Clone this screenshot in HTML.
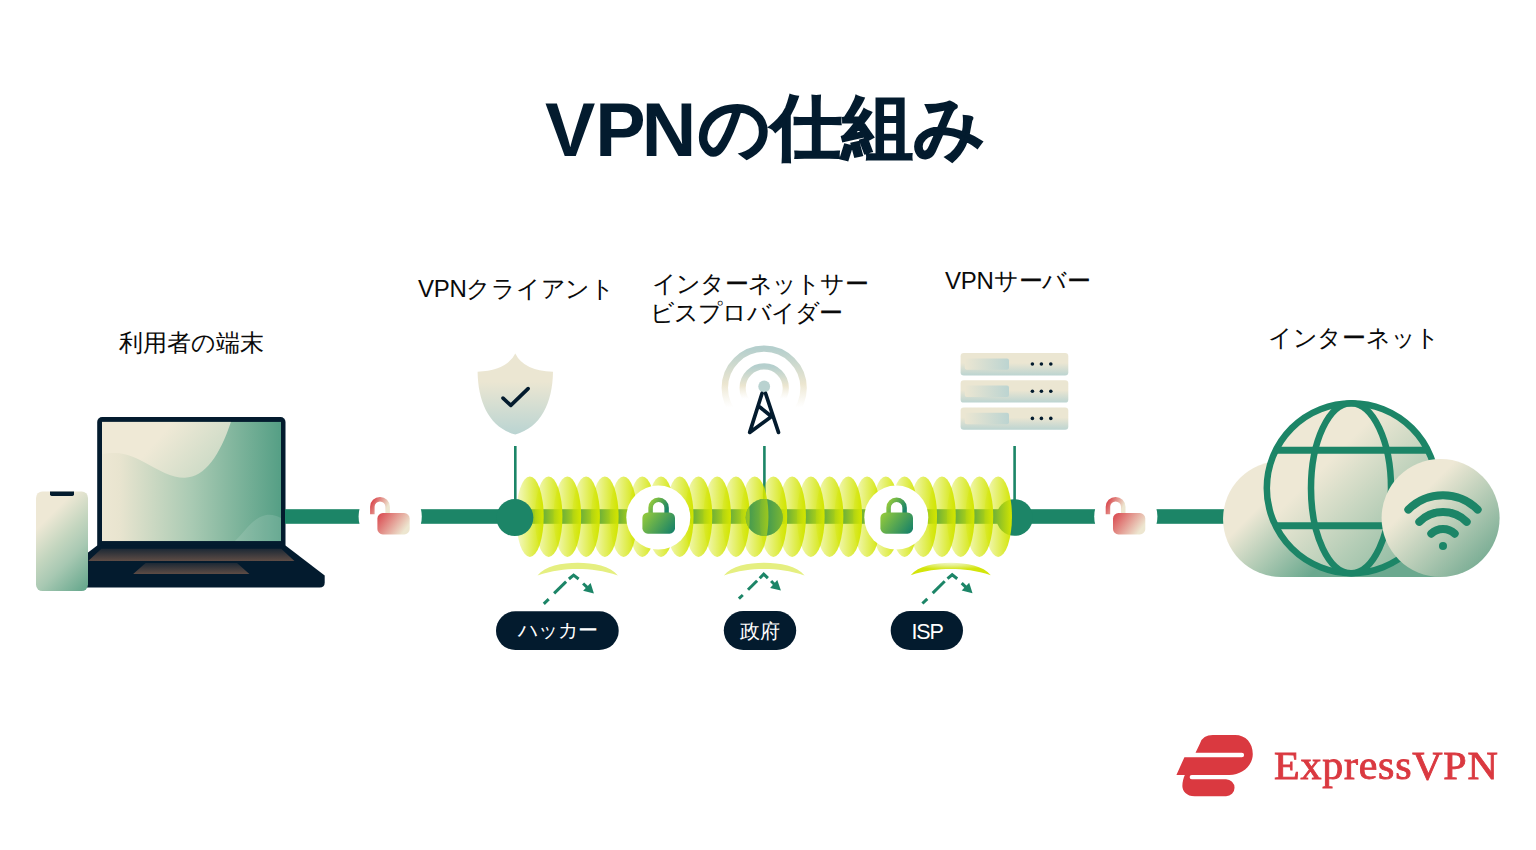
<!DOCTYPE html>
<html><head><meta charset="utf-8">
<style>
html,body{margin:0;padding:0;background:#fff;width:1536px;height:850px;overflow:hidden}
body{font-family:"Liberation Sans",sans-serif;position:relative}
.t{position:absolute;white-space:nowrap;color:#0a0a0a;line-height:1}
svg{position:absolute;left:0;top:0}
</style></head><body>
<svg width="1536" height="850" viewBox="0 0 1536 850">
<defs>
  <linearGradient id="scr" x1="0" y1="0" x2="1" y2="0">
    <stop offset="0" stop-color="#ede7d3"/>
    <stop offset="0.1" stop-color="#e8e4cf"/>
    <stop offset="0.5" stop-color="#a9cab3"/>
    <stop offset="1" stop-color="#559f85"/>
  </linearGradient>
  <linearGradient id="blob" gradientUnits="userSpaceOnUse" x1="170" y1="425" x2="235" y2="482">
    <stop offset="0" stop-color="#efe9d6"/>
    <stop offset="1" stop-color="#bdd4bf"/>
  </linearGradient>
  <linearGradient id="scrb" x1="0" y1="0" x2="1" y2="0.6">
    <stop offset="0" stop-color="#efe9d6"/>
    <stop offset="0.4" stop-color="#ece7d3"/>
    <stop offset="1" stop-color="#b3ceb9"/>
  </linearGradient>
  <linearGradient id="kb" x1="0" y1="0" x2="0" y2="1">
    <stop offset="0" stop-color="#1d2935"/>
    <stop offset="1" stop-color="#5e4c45"/>
  </linearGradient>
  <linearGradient id="phone" gradientUnits="userSpaceOnUse" x1="45" y1="505" x2="110" y2="570">
    <stop offset="0.12" stop-color="#eee8d5"/>
    <stop offset="0.4" stop-color="#c4d6bf"/>
    <stop offset="0.6" stop-color="#a9c9b3"/>
    <stop offset="1" stop-color="#5fa489"/>
  </linearGradient>
  <linearGradient id="unlock" x1="0" y1="0" x2="1" y2="0.5">
    <stop offset="0" stop-color="#d9434a"/>
    <stop offset="1" stop-color="#ede6d0"/>
  </linearGradient>
  <linearGradient id="lockg" x1="0" y1="0.25" x2="1" y2="0.75">
    <stop offset="0" stop-color="#8ec73e"/>
    <stop offset="1" stop-color="#1b8467"/>
  </linearGradient>
  <linearGradient id="ell" x1="0" y1="0" x2="1" y2="0">
    <stop offset="0" stop-color="#d2e500" stop-opacity="0.2"/>
    <stop offset="1" stop-color="#d2e500" stop-opacity="1"/>
  </linearGradient>
  <linearGradient id="shield" x1="0" y1="0" x2="0" y2="1">
    <stop offset="0.35" stop-color="#ebe6d2"/>
    <stop offset="1" stop-color="#bad4d2"/>
  </linearGradient>
  <linearGradient id="arcg" x1="0" y1="0" x2="0" y2="1">
    <stop offset="0" stop-color="#b5cfcd"/>
    <stop offset="0.45" stop-color="#ece6d0"/>
    <stop offset="0.75" stop-color="#f2eedf" stop-opacity="0"/>
  </linearGradient>
  <linearGradient id="srv" x1="0" y1="0" x2="0" y2="1">
    <stop offset="0.45" stop-color="#ebe6d2"/>
    <stop offset="1" stop-color="#bcd4d1"/>
  </linearGradient>
  <linearGradient id="slot" x1="0" y1="0" x2="1" y2="0">
    <stop offset="0" stop-color="#ebe6d2"/>
    <stop offset="1" stop-color="#bcd4d1"/>
  </linearGradient>
  <linearGradient id="globe" gradientUnits="userSpaceOnUse" x1="1335" y1="455" x2="1425" y2="545">
    <stop offset="0" stop-color="#eee8d5"/>
    <stop offset="1" stop-color="#8fbba2"/>
  </linearGradient>
  <linearGradient id="cloud" gradientUnits="userSpaceOnUse" x1="1258" y1="508" x2="1318" y2="568">
    <stop offset="0" stop-color="#eee8d5"/>
    <stop offset="1" stop-color="#6ba98f"/>
  </linearGradient>
  <linearGradient id="wifi" x1="0.15" y1="0.15" x2="1" y2="1">
    <stop offset="0.2" stop-color="#eee8d5"/>
    <stop offset="1" stop-color="#5e9f85"/>
  </linearGradient>
  <radialGradient id="isparc" cx="0.5" cy="0" r="0.55">
    <stop offset="0" stop-color="#f1f7c6"/>
    <stop offset="0.45" stop-color="#e4ef80"/>
    <stop offset="1" stop-color="#d3e50a"/>
  </radialGradient>
  <clipPath id="midclip"><circle cx="764.2" cy="517.5" r="18.5"/></clipPath>
  <linearGradient id="ell2" x1="0" y1="0" x2="1" y2="0">
    <stop offset="0" stop-color="#d2e500" stop-opacity="0.08"/>
    <stop offset="1" stop-color="#d2e500" stop-opacity="0.6"/>
  </linearGradient>
  <clipPath id="globeclip"><circle cx="1351.8" cy="488.2" r="86"/></clipPath>
  <clipPath id="scrclip"><rect x="102" y="421.7" width="179" height="119.5"/></clipPath>
  <mask id="barmask">
    <rect x="0" y="0" width="1536" height="850" fill="#fff"/>
    <circle cx="390.2" cy="516.5" r="31.6" fill="#000"/>
    <circle cx="1125.8" cy="516.5" r="31.6" fill="#000"/>
  </mask>
</defs>

<!-- ===== Laptop ===== -->
<rect x="97.2" y="417" width="188.3" height="140" rx="5" fill="#031b2e"/>
<g clip-path="url(#scrclip)">
  <rect x="102" y="421.7" width="179" height="119.5" fill="url(#scr)"/>
  <path d="M102 454 C112 452 125 452 140 460 C160 471 172 478 185 477.7 C205 477 220 455 231 421.7 L102 421.7 Z" fill="url(#blob)"/>
  <path d="M234.7 541.2 C245 532 252 518 266 515 C272 514 277 516 281 518 L281 541.2 Z" fill="#ffffff" opacity="0.12"/>
</g>
<path d="M97.2 545.6 L285.5 545.6 L324.7 575.5 L324.7 582.6 Q324.7 587.6 319.7 587.6 L62 587.6 Q58 587.6 58 582.6 L58 575.5 Z" fill="#031b2e"/>
<polygon points="101.4,548.8 281.2,548.8 294.4,561 88.2,561" fill="url(#kb)"/>
<polygon points="145.6,563 237,563 249.4,574 133.2,574" fill="url(#kb)"/>
<!-- phone -->
<rect x="36" y="491.5" width="52" height="99.5" rx="6.4" fill="url(#phone)"/>
<path d="M50 491.6 L74 491.6 L74 494.2 Q74 495.9 72.3 495.9 L51.7 495.9 Q50 495.9 50 494.2 Z" fill="#031b2e"/>

<!-- ===== main bar ===== -->
<g mask="url(#barmask)">
  <rect x="285" y="509.2" width="940" height="14.6" fill="#1c8567"/>
</g>
<!-- unlock icons -->
<g id="ul1">
  <path d="M372.35 514.2 L372.35 506.8 A7.65 7.65 0 0 1 387.65 506.8 L387.65 514" fill="none" stroke="url(#unlock)" stroke-width="4.5"/>
  <rect x="377.4" y="513.1" width="32.3" height="21.3" rx="5.5" fill="url(#unlock)"/>
</g>
<use href="#ul1" x="735.6"/>

<!-- vertical connectors -->
<rect x="514" y="446" width="2.6" height="60" fill="#1c8567"/>
<rect x="763.1" y="446" width="2.6" height="60" fill="#1c8567"/>
<rect x="1013.3" y="446" width="2.6" height="60" fill="#1c8567"/>
<!-- nodes behind ellipses -->
<circle cx="1014.6" cy="517.5" r="18.3" fill="#1c8567"/>
<!-- ellipses -->
<g id="ells"><ellipse cx="998.15" cy="516.7" rx="13.8" ry="40.2" fill="url(#ell)"/><ellipse cx="979.42" cy="516.7" rx="13.8" ry="40.2" fill="url(#ell)"/><ellipse cx="960.69" cy="516.7" rx="13.8" ry="40.2" fill="url(#ell)"/><ellipse cx="941.96" cy="516.7" rx="13.8" ry="40.2" fill="url(#ell)"/><ellipse cx="923.23" cy="516.7" rx="13.8" ry="40.2" fill="url(#ell)"/><ellipse cx="904.50" cy="516.7" rx="13.8" ry="40.2" fill="url(#ell)"/><ellipse cx="885.77" cy="516.7" rx="13.8" ry="40.2" fill="url(#ell)"/><ellipse cx="867.04" cy="516.7" rx="13.8" ry="40.2" fill="url(#ell)"/><ellipse cx="848.31" cy="516.7" rx="13.8" ry="40.2" fill="url(#ell)"/><ellipse cx="829.58" cy="516.7" rx="13.8" ry="40.2" fill="url(#ell)"/><ellipse cx="810.85" cy="516.7" rx="13.8" ry="40.2" fill="url(#ell)"/><ellipse cx="792.12" cy="516.7" rx="13.8" ry="40.2" fill="url(#ell)"/><ellipse cx="773.39" cy="516.7" rx="13.8" ry="40.2" fill="url(#ell)"/><ellipse cx="754.66" cy="516.7" rx="13.8" ry="40.2" fill="url(#ell)"/><ellipse cx="735.93" cy="516.7" rx="13.8" ry="40.2" fill="url(#ell)"/><ellipse cx="717.20" cy="516.7" rx="13.8" ry="40.2" fill="url(#ell)"/><ellipse cx="698.47" cy="516.7" rx="13.8" ry="40.2" fill="url(#ell)"/><ellipse cx="679.74" cy="516.7" rx="13.8" ry="40.2" fill="url(#ell)"/><ellipse cx="661.01" cy="516.7" rx="13.8" ry="40.2" fill="url(#ell)"/><ellipse cx="642.28" cy="516.7" rx="13.8" ry="40.2" fill="url(#ell)"/><ellipse cx="623.55" cy="516.7" rx="13.8" ry="40.2" fill="url(#ell)"/><ellipse cx="604.82" cy="516.7" rx="13.8" ry="40.2" fill="url(#ell)"/><ellipse cx="586.09" cy="516.7" rx="13.8" ry="40.2" fill="url(#ell)"/><ellipse cx="567.36" cy="516.7" rx="13.8" ry="40.2" fill="url(#ell)"/><ellipse cx="548.63" cy="516.7" rx="13.8" ry="40.2" fill="url(#ell)"/><ellipse cx="529.90" cy="516.7" rx="13.8" ry="40.2" fill="url(#ell)"/></g>
<circle cx="764.2" cy="517.5" r="18.5" fill="#1c8567"/>
<g clip-path="url(#midclip)"><ellipse cx="773.39" cy="516.7" rx="13.8" ry="40.2" fill="url(#ell2)"/><ellipse cx="754.66" cy="516.7" rx="13.8" ry="40.2" fill="url(#ell2)"/><ellipse cx="735.93" cy="516.7" rx="13.8" ry="40.2" fill="url(#ell2)"/></g>
<!-- client node on top -->
<circle cx="514.85" cy="517.6" r="18.5" fill="#1c8567"/>
<!-- white lock circles -->
<circle cx="658.3" cy="517.6" r="32" fill="#fff"/>
<circle cx="896.3" cy="517.6" r="32" fill="#fff"/>
<g id="lk1">
  <path d="M650.6 513 L650.6 507.7 A8 8 0 0 1 666.6 507.7 L666.6 513" fill="none" stroke="url(#lockg)" stroke-width="4.5"/>
  <rect x="642.4" y="512.5" width="32.6" height="21.2" rx="5.5" fill="url(#lockg)"/>
</g>
<use href="#lk1" x="238"/>

<!-- reflection arcs -->
<path d="M537.5 575.5 C544.8 566 562.0 562.8 577.70 562.8 C593.4 562.8 610.6 566 617.9 575.5 C603.6 570.5 590.6 569 577.70 569 C564.8 569 551.8 570.5 537.5 575.5 Z" fill="#e5ef80"/>
<path d="M723.9 575.5 C731.2 566 748.5 562.8 764.25 562.8 C780.0 562.8 797.3 566 804.6 575.5 C790.3 570.5 777.2 569 764.25 569 C751.3 569 738.2 570.5 723.9 575.5 Z" fill="#e5ef80"/>
<path d="M910.7 575.2 C918.0 566 935.1 562.8 950.75 562.8 C966.4 562.8 983.5 566 990.8 575.2 C976.5 570.5 963.6 569 950.75 569 C937.9 569 925.0 570.5 910.7 575.2 Z" fill="url(#isparc)"/>

<!-- dashed arrows -->
<g id="arr1" stroke="#1c8567" stroke-width="3" fill="none" stroke-linecap="butt" stroke-linejoin="miter">
  <path d="M543.8 603.8 L548.7 599.1"/>
  <path d="M554.1 593.4 L566.1 581.6"/>
  <path d="M568.9 579 L573.6 575.1 L578.6 579"/>
  <path d="M583.1 583.5 L588 588.2"/>
  <path d="M593.9 593.6 L590.6 583.1 L583.1 590.8 Z" fill="#1c8567" stroke="none"/>
</g>
<use href="#arr1" x="378.6" y="-0.3"/>
<g stroke="#1c8567" stroke-width="3" fill="none">
  <path d="M738.9 598.6 L742.8 595"/>
  <path d="M748 589.8 L757.1 580.7"/>
  <path d="M759.7 578.3 L763.7 574.2 L767.9 578.2"/>
  <path d="M771.1 581 L775 585"/>
  <path d="M780.9 590.5 L777.3 580.1 L770.1 587.9 Z" fill="#1c8567" stroke="none"/>
</g>

<!-- pills -->
<rect x="496" y="611.2" width="122.7" height="38.9" rx="19.45" fill="#031b2e"/>
<rect x="723.8" y="611" width="72.4" height="38.9" rx="19.45" fill="#031b2e"/>
<rect x="890.7" y="611" width="72.3" height="38.9" rx="19.45" fill="#031b2e"/>

<!-- shield -->
<path d="M515.3 353.4 Q507 370.5 477.6 371.8 C478 403 490 428 515.3 434.4 C540.6 428 552.6 403 553 371.8 Q523.6 370.5 515.3 353.4 Z" fill="url(#shield)"/>
<path d="M503 398.1 L510.8 405.4 L528.1 388.6" fill="none" stroke="#031b2e" stroke-width="3.6" stroke-linecap="round" stroke-linejoin="round"/>

<!-- tower -->
<circle cx="764.2" cy="388" r="39.4" fill="none" stroke="url(#arcg)" stroke-width="6.4"/>
<circle cx="764.2" cy="388" r="21.6" fill="none" stroke="url(#arcg)" stroke-width="6.2"/>
<circle cx="764.2" cy="386.5" r="5.9" fill="#b9d2d0"/>
<path d="M762 393.5 L749.7 432.4 L771.5 416.5 L759.7 407 M765.6 393.5 L778.5 432.4" fill="none" stroke="#031b2e" stroke-width="3.7" stroke-linecap="round" stroke-linejoin="round"/>

<!-- servers -->
<g id="srv1">
  <rect x="960.6" y="353" width="107.7" height="22.4" rx="3.2" fill="url(#srv)"/>
  <rect x="964.8" y="358.4" width="44.2" height="11.4" rx="2" fill="url(#slot)"/>
  <circle cx="1032.4" cy="364" r="1.8" fill="#031b2e"/>
  <circle cx="1041.4" cy="364" r="1.8" fill="#031b2e"/>
  <circle cx="1050.8" cy="364" r="1.8" fill="#031b2e"/>
</g>
<use href="#srv1" y="27.2"/>
<use href="#srv1" y="54.4"/>

<!-- cloud/globe -->
<path d="M1281 461 A58 58 0 0 0 1281 577 L1440 577 L1440 461 Z" fill="url(#cloud)"/>
<circle cx="1351.8" cy="488.2" r="85" fill="url(#globe)" stroke="#1c8567" stroke-width="6.5"/>
<ellipse cx="1351" cy="488.2" rx="40" ry="85" fill="none" stroke="#1c8567" stroke-width="6.5"/>
<g clip-path="url(#globeclip)"><line x1="1260" y1="450.2" x2="1440" y2="450.2" stroke="#1c8567" stroke-width="7"/>
<line x1="1260" y1="525.8" x2="1440" y2="525.8" stroke="#1c8567" stroke-width="7"/></g>
<circle cx="1440.6" cy="518" r="59" fill="url(#wifi)"/>
<g fill="none" stroke="#1c8567" stroke-width="8" stroke-linecap="round">
  <path d="M1408.35 509.55 A49 49 0 0 1 1477.65 509.55"/>
  <path d="M1419.3 521.8 A33.5 33.5 0 0 1 1466.7 521.8"/>
  <path d="M1431.3 533.7 A16.6 16.6 0 0 1 1454.7 533.7"/>
</g>
<circle cx="1443" cy="545.9" r="4" fill="#1c8567"/>

<!-- logo -->
<g transform="translate(1170 730) scale(0.08237)" fill="#da3940">
  <path d="M310 275 L365 160 Q400 62 520 62 L790 62 C920 62 1005 160 1005 290 C1005 430 880 545 720 545 L78 545 L175 330 L872 330 A27.5 27.5 0 0 0 872 275 Z"/>
  <path d="M180 545 L265 545 A26.5 26.5 0 0 0 265 598 L680 598 A103.5 103.5 0 0 1 680 805 L300 805 C200 805 150 740 150 680 C150 630 165 580 180 545 Z"/>
</g>
</svg>

<div class="t" style="left:545px;top:93px;font-size:75.5px;font-weight:bold;color:#031b2e">V<span style="letter-spacing:-4px">P</span>N</div>
<div class="t" style="left:698px;top:92px;font-size:71px;font-weight:bold;color:#031b2e;letter-spacing:0px;-webkit-text-stroke:1.6px #031b2e">の仕組み</div>
<div class="t" style="left:119px;top:330.5px;font-size:24px">利用者の端末</div>
<div class="t" style="left:418px;top:277px;font-size:24px;letter-spacing:-0.3px">VPNクライアント</div>
<div class="t" style="left:652px;top:271.5px;font-size:24px;letter-spacing:-0.8px">インターネットサー</div>
<div class="t" style="left:650px;top:301px;font-size:24px;letter-spacing:-0.85px">ビスプロバイダー</div>
<div class="t" style="left:945px;top:269px;font-size:24px;letter-spacing:-0.2px">VPNサーバー</div>
<div class="t" style="left:1268px;top:325.5px;font-size:24px;letter-spacing:-0.3px">インターネット</div>
<div class="t" style="left:518px;top:620px;font-size:20px;color:#fff">ハッカー</div>
<div class="t" style="left:740px;top:620.5px;font-size:20px;color:#fff">政府</div>
<div class="t" style="left:911.5px;top:621.5px;font-size:21.5px;color:#fff;letter-spacing:-1.2px">ISP</div>
<div class="t" style="left:1274px;top:746px;font-size:42px;font-weight:normal;-webkit-text-stroke:0.9px #da3940;color:#da3940;font-family:'Liberation Serif',serif;letter-spacing:0.75px;transform-origin:0 0;transform:scale(1,0.95)">ExpressVPN</div>
</body></html>
